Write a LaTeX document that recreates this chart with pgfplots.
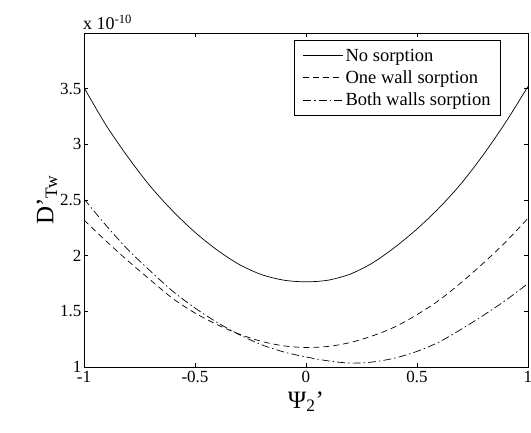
\documentclass[border=0pt]{standalone}
\usepackage{pgfplots}
\pgfplotsset{compat=1.18}
\usepackage{pgfplotstable}
\usepackage{fontspec}
\setmainfont{Liberation Serif}

\pgfplotstableread{
x y
-1.0 3.51
-0.9 3.17
-0.8 2.88
-0.7 2.62
-0.6 2.40
-0.5 2.21
-0.4 2.05
-0.3 1.92
-0.2 1.83
-0.1 1.78
0.0 1.765
0.1 1.78
0.2 1.835
0.3 1.935
0.4 2.075
0.5 2.24
0.6 2.43
0.7 2.65
0.8 2.91
0.9 3.20
1.0 3.52
}\nosorp

\pgfplotstableread{
x y
-1.0 2.32
-0.9 2.13
-0.8 1.95
-0.7 1.78
-0.6 1.615
-0.5 1.485
-0.4 1.38
-0.3 1.295
-0.2 1.23
-0.1 1.19
0.0 1.175
0.1 1.185
0.2 1.22
0.3 1.28
0.4 1.36
0.5 1.47
0.6 1.60
0.7 1.76
0.8 1.935
0.9 2.125
1.0 2.335
}\onewall

\pgfplotstableread{
x y
-1.0 2.51
-0.9 2.27
-0.8 2.05
-0.7 1.86
-0.6 1.68
-0.5 1.53
-0.4 1.40
-0.3 1.29
-0.2 1.20
-0.1 1.135
0.0 1.09
0.1 1.055
0.2 1.035
0.3 1.045
0.4 1.08
0.5 1.14
0.6 1.225
0.7 1.34
0.8 1.465
0.9 1.60
1.0 1.75
}\bothwalls

\begin{document}
\begin{tikzpicture}
\begin{axis}[
  scale only axis,
  width=444pt, height=334pt,
  clip mode=individual,
  xmin=-1, xmax=1, ymin=1, ymax=4,
  xtick={-1,-0.5,0,0.5,1},
  xticklabels={-1,-0.5,0,0.5,1},
  ytick={1,1.5,2,2.5,3,3.5},
  yticklabels={1,1.5,2,2.5,3,3.5},
  tick align=inside,
  major tick length=4pt,
  tick style={black, line width=0.6pt},
  axis line style={black, line width=0.8pt},
  ticklabel style={font=\fontsize{17}{19}\selectfont},
  xticklabel style={yshift=-0.5pt},
  yticklabel style={xshift=1pt},
  xlabel={\fontsize{25}{28}\selectfont Ψ\textsubscript{2}'},
  ylabel={\fontsize{25}{28}\selectfont D'\textsubscript{Tw}},
  xlabel style={yshift=-2pt},
  ylabel style={yshift=-4pt},
  legend style={draw=black, line width=0.8pt, fill=white,
    font=\fontsize{18.5}{21}\selectfont,
    at={(0.939,0.979)}, anchor=north east,
    inner xsep=8pt, inner ysep=6.5pt, row sep=4pt},
  legend cell align=left,
  legend image code/.code={\draw[#1] (0pt,0pt) -- (40pt,0pt);},
]
\addplot[black, line width=0.7pt, smooth] table {\nosorp};
\addlegendentry{No sorption}
\addplot[black, line width=0.7pt, smooth, dash pattern=on 6pt off 4pt] table {\onewall};
\addlegendentry{One wall sorption}
\addplot[black, line width=0.7pt, smooth, dash pattern=on 8pt off 3pt on 1.5pt off 3pt] table {\bothwalls};
\addlegendentry{Both walls sorption}
\node[anchor=south west, inner sep=0pt, font=\fontsize{18}{20}\selectfont] at (rel axis cs:0,1) [yshift=3pt, xshift=-1pt] {x 10\textsuperscript{-10}};
\end{axis}
\pgfresetboundingbox
\path[use as bounding box] (-84pt,-66pt) rectangle (447pt,367pt);
\end{tikzpicture}
\end{document}
